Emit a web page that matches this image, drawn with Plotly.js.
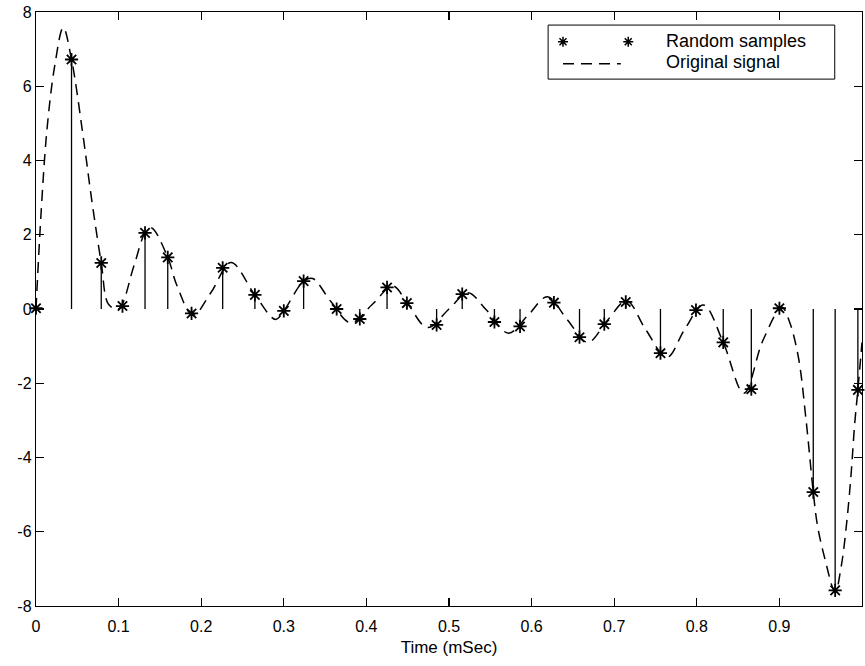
<!DOCTYPE html>
<html><head><meta charset="utf-8">
<script src="https://cdn.plot.ly/plotly-3.0.1.min.js"></script>
<style>html,body{margin:0;padding:0;background:#fff}#chart{width:865px;height:666px}</style>
</head><body><div id="chart"></div>
<script>
// Random samples (time in mSec, value)
const sampleTime = [0.000, 0.043, 0.079, 0.1047, 0.132, 0.1595, 0.1883, 0.226, 0.265, 0.300,
  0.324, 0.364, 0.392, 0.425, 0.449, 0.485, 0.516, 0.555, 0.586, 0.627,
  0.658, 0.688, 0.714, 0.756, 0.799, 0.832, 0.866, 0.900, 0.941, 0.9675, 0.995];
const sampleValue = [0.02, 6.72, 1.24, 0.08, 2.05, 1.39, -0.12, 1.11, 0.38, -0.05,
  0.75, 0.00, -0.27, 0.58, 0.16, -0.43, 0.40, -0.35, -0.47, 0.17,
  -0.76, -0.41, 0.19, -1.19, -0.03, -0.90, -2.16, 0.02, -4.93, -7.58, -2.18];

// Original signal
const signalTime = [0, 0.0064, 0.0133, 0.0226, 0.033, 0.043, 0.058, 0.067, 0.079, 0.088,
  0.100, 0.1185, 0.132, 0.1396, 0.1595, 0.1705, 0.190, 0.212, 0.236, 0.265,
  0.290, 0.300, 0.324, 0.335, 0.357, 0.381, 0.407, 0.432, 0.450, 0.474,
  0.500, 0.523, 0.545, 0.572, 0.596, 0.619, 0.643, 0.668, 0.692, 0.715,
  0.738, 0.764, 0.785, 0.808, 0.832, 0.857, 0.880, 0.903, 0.912, 0.923,
  0.932, 0.941, 0.946, 0.955, 0.9675, 0.975, 0.982, 0.987, 0.991, 0.995, 1.0];
const signalValue = [0, 2.68, 4.84, 6.54, 7.58, 6.72, 4.50, 3.01, 1.24, 0.12,
  0.00, 1.16, 2.05, 2.19, 1.39, 0.64, -0.17, 0.45, 1.25, 0.38,
  -0.28, -0.05, 0.75, 0.82, 0.20, -0.37, 0.12, 0.62, 0.14, -0.50,
  0.00, 0.44, -0.02, -0.65, -0.16, 0.33, -0.28, -0.90, -0.30, 0.22,
  -0.55, -1.30, -0.56, 0.11, -0.90, -2.27, -0.85, 0.045, -0.33, -1.30,
  -2.93, -4.93, -5.82, -6.72, -7.62, -6.91, -5.64, -4.39, -3.13, -2.18, -0.90];

const xTickVals = [0, 0.1, 0.2, 0.3, 0.4, 0.5, 0.6, 0.7, 0.8, 0.9, 1];
const xTickText = ['0', '0.1', '0.2', '0.3', '0.4', '0.5', '0.6', '0.7', '0.8', '0.9', '1'];
const yTickVals = [-8, -6, -4, -2, 0, 2, 4, 6, 8];
const yTickText = ['-8', '-6', '-4', '-2', '0', '2', '4', '6', '8'];

const legendLabels = ['Random samples', 'Original signal'];
const xTitle = 'Time (mSec)';

// stems built from the sample arrays
const stemX = [], stemY = [];
sampleTime.forEach((t, i) => { stemX.push(t, t, null); stemY.push(0, sampleValue[i], null); });

const FONT = 'Liberation Sans, Arial, Helvetica, sans-serif';

const traces = [
  { x: signalTime, y: signalValue, mode: 'lines', name: legendLabels[1], hoverinfo: 'skip',
    line: { color: '#000', width: 1.5, dash: '11px,7px', shape: 'spline', smoothing: 1 } },
  { x: stemX, y: stemY, mode: 'lines', hoverinfo: 'skip', showlegend: false,
    line: { color: '#000', width: 1.3 } },
  { x: sampleTime, y: sampleValue, mode: 'markers', name: legendLabels[0], cliponaxis: false,
    marker: { symbol: 'asterisk-open', size: 11, color: '#000', line: { color: '#000', width: 1.8 } } }
];

// legend drawn by hand (MATLAB style)
const L = { x0: 0.620, x1: 0.967, y0: 0.887, y1: 0.978 };
function star(px, py) {
  return { type: 'path', xref: 'paper', yref: 'paper', xsizemode: 'pixel', ysizemode: 'pixel',
    xanchor: px, yanchor: py, path: 'M-5,0L5,0M0,-5L0,5M-3.5,-3.5L3.5,3.5M-3.5,3.5L3.5,-3.5',
    line: { color: '#000', width: 1.5 } };
}
const shapes = [
  { type: 'rect', xref: 'paper', yref: 'paper', x0: L.x0, x1: L.x1, y0: L.y0, y1: L.y1,
    line: { color: '#000', width: 1 }, fillcolor: '#fff', layer: 'above' },
  star(0.638, 0.950), star(0.717, 0.950),
  { type: 'line', xref: 'paper', yref: 'paper', x0: 0.638, x1: 0.708, y0: 0.913, y1: 0.913,
    line: { color: '#000', width: 1.4, dash: '11px,7px' } }
];
const annotations = [
  { xref: 'paper', yref: 'paper', x: 0.760, y: 0.952, xanchor: 'left', yanchor: 'middle', showarrow: false,
    text: legendLabels[0], font: { family: FONT, size: 18, color: '#000' } },
  { xref: 'paper', yref: 'paper', x: 0.760, y: 0.915, xanchor: 'left', yanchor: 'middle', showarrow: false,
    text: legendLabels[1], font: { family: FONT, size: 18, color: '#000' } }
];

const axisCommon = {
  showline: true, linecolor: '#000', linewidth: 1.2, mirror: 'ticks', ticks: 'inside', ticklen: 8,
  tickcolor: '#000', tickwidth: 1.2, showgrid: false, zeroline: false,
  tickfont: { family: FONT, size: 16, color: '#000' }
};

const layout = {
  width: 865, height: 666, paper_bgcolor: '#fff', plot_bgcolor: '#fff',
  margin: { l: 36, r: 3, t: 12, b: 60 }, showlegend: false,
  font: { family: FONT, color: '#000' },
  xaxis: Object.assign({}, axisCommon, { range: [0, 1], tickmode: 'array', tickvals: xTickVals, ticktext: xTickText,
    ticklabelstandoff: 6,
    title: { text: xTitle, font: { family: FONT, size: 17, color: '#000' }, standoff: 6 } }),
  yaxis: Object.assign({}, axisCommon, { range: [-8, 8], tickmode: 'array', tickvals: yTickVals, ticktext: yTickText }),
  shapes: shapes, annotations: annotations
};

Plotly.newPlot('chart', traces, layout, { displayModeBar: false, staticPlot: true });
</script>
</body></html>
